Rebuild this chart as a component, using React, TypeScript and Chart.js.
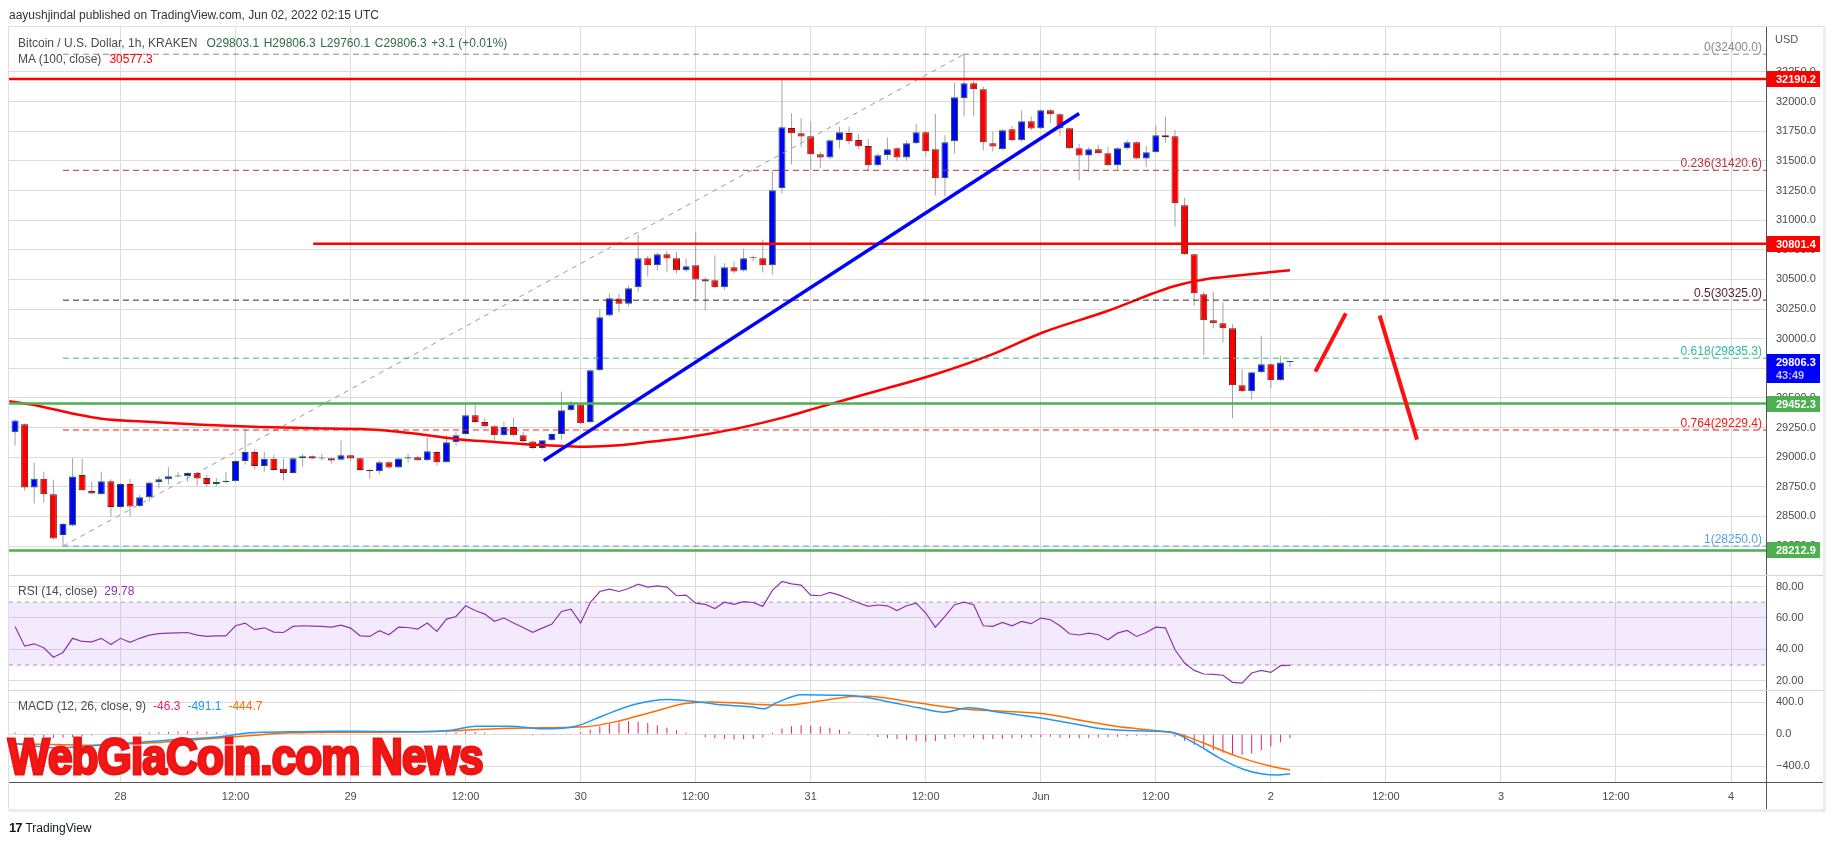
import React, { useEffect, useRef } from 'react';
import { Chart, registerables } from 'chart.js';

Chart.register(...registerables);

const FONT = '"Liberation Sans", Arial, sans-serif';
Chart.defaults.font.family = FONT;

// x values are hours counted from May 27 2022 00:00 UTC
const FIRST_HOUR = 13;
const X_MIN = 12.37;
const X_MAX = 195.65;

const opens = [
  29211, 29279, 28745, 28818, 28688, 28343, 28424, 28849, 28714, 28688,
  28798, 28579, 28773, 28587, 28663, 28790, 28815, 28843, 28840, 28866,
  28824, 28773, 28790, 28798, 28967, 29043, 28925, 28986, 28902, 28866,
  28992, 29009, 28990, 28992, 28978, 29017, 28992, 28891, 28882, 28958,
  28913, 28989, 29000, 28975, 29043, 28958, 29127, 29195, 29355, 29296,
  29262, 29186, 29254, 29186, 29133, 29077, 29144, 29195, 29397, 29445,
  29296, 29734, 30196, 30339, 30294, 30434, 30679, 30620, 30713, 30679,
  30578, 30620, 30502, 30493, 30434, 30603, 30575, 30682, 30679, 30620,
  31269, 31778, 31733, 31708, 31556, 31528, 31674, 31736, 31677, 31626,
  31463, 31548, 31607, 31528, 31649, 31742, 31598, 31354, 31666, 32029,
  32155, 32104, 31649, 31598, 31767, 31674, 31834, 31776, 31927, 31893,
  31775, 31607, 31545, 31598, 31565, 31463, 31607, 31657, 31520, 31573,
  31716, 31708, 31126, 30713, 30375, 30156, 30131, 30088, 29608, 29557,
  29717, 29785, 29650, 29803.1,
];
const highs = [
  29321, 29285, 28953, 28877, 28809, 28444, 28992, 28987, 28792, 28877,
  28815, 28781, 28818, 28683, 28795, 28835, 28916, 28874, 28874, 28871,
  28852, 28824, 28874, 28973, 29231, 29068, 29046, 29020, 28986, 28998,
  29026, 29017, 29029, 28995, 29141, 29023, 29000, 28897, 28972, 28964,
  28995, 29026, 29012, 29166, 29057, 29183, 29217, 29448, 29442, 29329,
  29268, 29299, 29332, 29214, 29140, 29144, 29203, 29552, 29476, 29450,
  29740, 30249, 30378, 30378, 30446, 30879, 30699, 30727, 30738, 30732,
  30679, 30898, 30519, 30704, 30637, 30648, 30758, 30701, 30834, 31421,
  32190, 31902, 31860, 31832, 31579, 31683, 31789, 31789, 31728, 31685,
  31565, 31697, 31615, 31671, 31812, 31753, 31896, 31719, 32160, 32400,
  32177, 32127, 31747, 31767, 31795, 31924, 31874, 31930, 31935, 31902,
  31780, 31643, 31615, 31635, 31618, 31615, 31677, 31663, 31626, 31798,
  31874, 31761, 31188, 30713, 30395, 30395, 30308, 30122, 29743, 29720,
  30024, 29790, 29855, 29806.3,
];
const lows = [
  29099, 28717, 28610, 28618, 28306, 28250, 28416, 28715, 28690, 28683,
  28500, 28573, 28500, 28582, 28627, 28736, 28770, 28832, 28795, 28759,
  28748, 28753, 28781, 28793, 28939, 28897, 28880, 28885, 28804, 28863,
  28922, 28981, 28972, 28944, 28972, 28964, 28885, 28821, 28857, 28905,
  28908, 28956, 28970, 28967, 28927, 28953, 29099, 29189, 29290, 29251,
  29135, 29181, 29175, 29127, 29068, 29068, 29140, 29147, 29391, 29280,
  29290, 29729, 30187, 30221, 30271, 30398, 30524, 30575, 30564, 30550,
  30561, 30313, 30238, 30426, 30412, 30550, 30566, 30651, 30558, 30541,
  31224, 31472, 31615, 31424, 31438, 31514, 31604, 31641, 31598, 31416,
  31452, 31508, 31497, 31500, 31641, 31537, 31207, 31199, 31565, 31874,
  31874, 31587, 31579, 31593, 31663, 31663, 31761, 31770, 31818, 31711,
  31600, 31334, 31410, 31559, 31460, 31430, 31593, 31514, 31446, 31573,
  31654, 30946, 30705, 30280, 29858, 30086, 29968, 29329, 29550, 29487,
  29710, 29582, 29645, 29760.1,
];
const closes = [
  29310, 28745, 28818, 28688, 28315, 28436, 28838, 28722, 28694, 28798,
  28579, 28773, 28584, 28663, 28787, 28815, 28840, 28838, 28866, 28821,
  28773, 28790, 28801, 28967, 29043, 28925, 28987, 28891, 28866, 28992,
  29009, 28989, 28992, 28972, 29017, 28989, 28891, 28882, 28958, 28913,
  28989, 29000, 28975, 29051, 28958, 29127, 29186, 29355, 29296, 29262,
  29186, 29254, 29186, 29136, 29077, 29144, 29195, 29397, 29445, 29287,
  29734, 30181, 30342, 30294, 30426, 30679, 30620, 30713, 30676, 30578,
  30612, 30499, 30482, 30434, 30603, 30566, 30679, 30679, 30620, 31252,
  31784, 31733, 31705, 31556, 31528, 31674, 31742, 31666, 31624, 31463,
  31548, 31598, 31528, 31649, 31742, 31582, 31354, 31657, 32037, 32155,
  32104, 31657, 31621, 31758, 31674, 31834, 31773, 31927, 31893, 31775,
  31607, 31545, 31598, 31565, 31463, 31607, 31657, 31520, 31573, 31716,
  31700, 31143, 30713, 30384, 30156, 30131, 30088, 29608, 29557, 29717,
  29785, 29650, 29799, 29806.3,
];
const hours = opens.map((_, i) => FIRST_HOUR + i);

const maHours = [12.4, 15, 17, 19.5, 22, 27.5, 32.5, 38.5, 44, 49, 53, 56, 59.4, 62.8, 66.7, 70, 72.6, 76, 79, 83, 88, 93.8, 97, 103, 109, 115, 120.2, 126.8, 133.8, 137.2, 140.3, 146];
const maValues = [29472, 29440, 29405, 29360, 29325, 29296, 29273, 29254, 29245, 29237, 29215, 29185, 29150, 29130, 29107, 29095, 29088, 29100, 29128, 29166, 29237, 29349, 29425, 29560, 29700, 29870, 30052, 30229, 30440, 30502, 30530, 30578];

const rsiValues = [
  54.5, 42, 43.5, 41, 35, 38, 47, 45, 44.8, 47,
  43, 47, 44.5, 47, 49, 50, 50.3, 50.5, 50.7, 49,
  48.2, 48.5, 48.6, 55, 56.7, 52.5, 53.7, 51, 50.7, 54.6,
  55, 54.8, 54.6, 54.1, 55.4, 53.5, 48.6, 48.2, 51.8, 49.3,
  54.1, 53.9, 52.9, 56.7, 51.4, 59.2, 60.9, 67.7, 64.7, 62.4,
  57.8, 59.9, 56.7, 53.9, 50.8, 53.5, 56.1, 64.1, 65.6, 56.7,
  69.8, 76.8, 78.3, 76.8, 78.7, 81.5, 79.6, 80.4, 79.6, 74.1,
  74.5, 69.4, 68.6, 66, 70, 68.6, 70.3, 69.8, 67.3, 77.5,
  83.2, 81.7, 80.9, 74.5, 74.1, 76.2, 74.5, 72, 69.5, 67.3,
  68.2, 67.7, 64.7, 67.7, 69.4, 63.1, 54.1, 60.9, 68.4, 70,
  68.4, 55, 54.6, 57.1, 55, 57.8, 56.3, 59.9, 58.8, 55,
  49.9, 49.1, 50.3, 49.3, 46.1, 50.3, 52, 48.2, 50.7, 54.1,
  53.7, 39.7, 31.3, 26.6, 24.3, 24, 23.5, 19, 18.5, 24.9,
  26.6, 25.3, 29.6, 29.78,
];

const macdHours = [13, 17.5, 22.8, 28.9, 34.1, 37.6, 41.9, 46.3, 50.6, 55, 58.5, 61.1, 64.6, 68.1, 71.5, 74.2, 77.6, 81.1, 83.7, 86.3, 89.8, 91.1, 92.4, 95.1, 98.5, 100.3, 103.8, 107.3, 109.9, 112.5, 116, 119.5, 122.9, 126.4, 129.9, 133.4, 136, 138.6, 141.2, 143, 144.7, 146];
const macdValues = [-118, -169, -128, -74, -36, 17, 30, 38, 34, 30, 50, 100, 100, 67, 100, 224, 369, 431, 411, 369, 340, 316, 390, 490, 485, 481, 411, 328, 274, 328, 266, 212, 142, 67, 42, 30, -107, -293, -438, -492, -508, -491.1];
const signalHours = [13, 20.2, 27.1, 33.2, 37.6, 41.9, 46.3, 50.6, 55, 59.4, 63.7, 68.1, 72.5, 75.9, 79.4, 82.9, 85.5, 88.1, 90.7, 93.3, 96.8, 100.3, 102, 105.5, 109, 112.5, 116, 120.3, 124.7, 128.2, 131.6, 134.3, 136.9, 140.4, 143.9, 146];
const signalValues = [-119, -136, -107, -57, -16, 17, 26, 26, 30, 46, 71, 79, 92, 162, 274, 382, 402, 390, 369, 361, 411, 469, 473, 419, 357, 307, 287, 253, 162, 92, 50, 5, -107, -272, -396, -444.7];
const histValues = [
  20, 10, -20, -40, -45,
  -40, -35, -25, -15, -10, -5,
  5, 10, 15, 20, 25, 30, 35, 38, 35, 30, 25, 20,
  15, 12, 10, 8, 6, 4, 3, 2, 2, 2, 0, -2, -3, -2, 0,
  2, 3, 4, 5, 6, 8, 10, 18, 25, 30,
  28, 20, 8, 0, -8, -12, -15, -14, -10, -2,
  10, 25, 60, 100, 130, 150, 160, 155, 140, 110, 80, 50,
  20, -10, -35, -50, -60, -65, -62, -55, -40, 20,
  70, 100, 110, 105, 95, 80, 55, 30, 10, -15, -35, -50,
  -60, -70, -85, -95, -85, -60, -35, -30, -50, -65, -60, -55,
  -50, -45, -40, -35, -30, -40, -45, -50, -45, -40, -35, -30, -25, -20, -15, -10, -5,
  -30, -80, -130, -170, -200, -230, -250, -255, -240, -200, -150, -100, -46.3,
];

const timeTickHours = [24, 36, 48, 60, 72, 84, 96, 108, 120, 132, 144, 156, 168, 180, 192];
const timeTickLabels = ['28', '12:00', '29', '12:00', '30', '12:00', '31', '12:00', 'Jun', '12:00', '2', '12:00', '3', '12:00', '4'];
const priceTicks = [28250, 28500, 28750, 29000, 29250, 29500, 29750, 30000, 30250, 30500, 30750, 31000, 31250, 31500, 31750, 32000, 32250];
const rsiTicks = [20, 40, 60, 80];
const macdTicks = [-400, 0, 400];

const PRICE_MIN = 28008, PRICE_MAX = 32638;
const RSI_MIN = 14.27, RSI_MAX = 87.44;
const MACD_MIN = -594, MACD_MAX = 553;

const resistanceTop = 32190.2;
const resistanceMid = 30801.4;
const resistanceMidStart = 44.1;
const supportTop = 29452.3;
const supportBottom = 28212.9;

const fibRatios = ['0', '0.236', '0.5', '0.618', '0.764', '1'];
const fibPrices = [32400.0, 31420.6, 30325.0, 29835.3, 29229.4, 28250.0];
const fibColors = ['#8a8a8a', '#b3343c', '#4f1d2e', '#2dbd96', '#ff1414', '#5a9fd8'];
const fibStartHour = 18;
const fibDiagonalHours = [18, 112];
const fibDiagonalPrices = [28250, 32400];
const trendHours = [68.15, 124.0];
const trendPrices = [28971, 31900];
const arrowUpHours = [148.64, 151.82];
const arrowUpPrices = [29722, 30214];
const arrowDownHours = [155.35, 159.25];
const arrowDownPrices = [30194, 29148];

const priceBoxes = [
  { value: 32190.2, bg: '#ff0000', text: '32190.2', sub: '' },
  { value: 30801.4, bg: '#ff0000', text: '30801.4', sub: '' },
  { value: 29806.3, bg: '#0000ff', text: '29806.3', sub: '43:49' },
  { value: 29452.3, bg: '#4caf50', text: '29452.3', sub: '' },
  { value: 28212.9, bg: '#4caf50', text: '28212.9', sub: '' },
];

const ohlcLegend = ['O29803.1', 'H29806.3', 'L29760.1', 'C29806.3', '+3.1 (+0.01%)'];

const GRID = '#dcdcdc';
const TICK_COLOR = '#4a4a4a';
const AXIS_WIDTH = 57;

const pts = (xs: number[], ys: number[]) => xs.map((x, i) => ({ x, y: ys[i] }));
const hline = (v: number, from = X_MIN) => [{ x: from, y: v }, { x: X_MAX, y: v }];

const overlayPlugin = {
  id: 'overlay',
  afterDraw(chart: any) {
    const { ctx, chartArea: ca, scales } = chart;
    const ys = scales.y, yr = scales.yRsi, ym = scales.yMacd, xs = scales.x;
    const right = ys.right;
    const bottom = xs.bottom;
    ctx.save();
    // frame
    ctx.strokeStyle = '#dcdfe6';
    ctx.lineWidth = 1;
    ctx.beginPath();
    ctx.moveTo(ca.left - 1, Math.round(ca.top) + 0.5);
    ctx.lineTo(right, Math.round(ca.top) + 0.5);
    ctx.moveTo(ca.left - 0.5, ca.top);
    ctx.lineTo(ca.left - 0.5, bottom + 1);
    ctx.stroke();
    ctx.fillStyle = '#ececf2';
    ctx.fillRect(right, ca.top, 3, bottom - ca.top + 4);
    ctx.fillRect(ca.left - 1, bottom + 1, right - ca.left + 4, 3);
    // pane separators
    ctx.strokeStyle = '#d2d4dc';
    ctx.beginPath();
    for (const py of [yr.top, ym.top]) {
      ctx.moveTo(ca.left, Math.round(py) + 0.5);
      ctx.lineTo(right, Math.round(py) + 0.5);
    }
    ctx.stroke();
    // axis line extensions
    ctx.strokeStyle = '#555';
    ctx.beginPath();
    const ax = Math.round(ys.left) + 0.5;
    ctx.moveTo(ax, ca.bottom);
    ctx.lineTo(ax, bottom + 1);
    const ay = Math.round(ca.bottom) + 0.5;
    ctx.moveTo(ca.right, ay);
    ctx.lineTo(right, ay);
    ctx.stroke();
    // fib labels
    ctx.font = `12px ${FONT}`;
    ctx.textAlign = 'right';
    ctx.textBaseline = 'bottom';
    fibPrices.forEach((p, i) => {
      ctx.fillStyle = fibColors[i];
      ctx.fillText(`${fibRatios[i]}(${p.toFixed(1)})`, ca.right - 4, ys.getPixelForValue(p) - 0.5);
    });
    // price boxes on axis
    ctx.textAlign = 'left';
    ctx.textBaseline = 'middle';
    for (const b of priceBoxes) {
      const py = ys.getPixelForValue(b.value);
      const h = b.sub ? 29 : 16;
      const top = py - 8;
      ctx.fillStyle = b.bg;
      ctx.fillRect(ys.left + 1, Math.round(top), 53, h);
      ctx.font = `bold 11px ${FONT}`;
      ctx.fillStyle = '#ffffff';
      ctx.fillText(b.text, ys.left + 10, Math.round(top) + 8.5);
      if (b.sub) {
        ctx.fillStyle = '#c4c4ff';
        ctx.fillText(b.sub, ys.left + 10, Math.round(top) + 22);
      }
    }
    ctx.font = `11px ${FONT}`;
    ctx.fillStyle = '#555';
    ctx.fillText('USD', ys.left + 9, ca.top + 14);
    ctx.restore();
  },
};

export default function App() {
  const canvasRef = useRef<HTMLCanvasElement>(null);
  const wmRef = useRef<HTMLDivElement>(null);

  useEffect(() => {
    const up = (i: number) => closes[i] > opens[i];
    const lineDs = (data: any[], color: string, width: number, extra: any = {}) => ({
      type: 'line',
      data,
      borderColor: color,
      borderWidth: width,
      pointRadius: 0,
      fill: false,
      yAxisID: 'y',
      order: 2,
      ...extra,
    });

    const datasets: any[] = [
      {
        type: 'bar',
        data: hours.map((h, i) => ({ x: h, y: [lows[i], highs[i]] })),
        backgroundColor: '#a3a3a3',
        barThickness: 1,
        grouped: false,
        inflateAmount: 0,
        yAxisID: 'y',
        order: 20,
      },
      {
        type: 'bar',
        data: hours.map((h, i) => ({ x: h, y: [opens[i], closes[i]] })),
        backgroundColor: hours.map((_, i) => (up(i) ? '#0000ff' : '#ff0000')),
        borderColor: hours.map((_, i) => (up(i) ? '#1f5c33' : '#6b1a1a')),
        borderWidth: 1,
        borderSkipped: false,
        barThickness: 7,
        minBarLength: 1,
        grouped: false,
        inflateAmount: 0,
        yAxisID: 'y',
        order: 19,
      },
      lineDs(pts(maHours, maValues), '#ff0000', 2.5, { cubicInterpolationMode: 'monotone', order: 15 }),
      lineDs(hline(resistanceTop), '#ff0000', 2.5),
      lineDs(hline(resistanceMid, resistanceMidStart), '#ff0000', 2.5),
      lineDs(hline(supportTop), '#4caf50', 2.5),
      lineDs(hline(supportBottom), '#4caf50', 2.5),
      ...fibPrices.map((p, i) => lineDs(hline(p, fibStartHour), fibColors[i], 1, { borderDash: [6, 4], order: 3 })),
      lineDs(pts(fibDiagonalHours, fibDiagonalPrices), '#9a9a9a', 1, { borderDash: [5, 5], order: 3 }),
      lineDs(pts(trendHours, trendPrices), '#0000ff', 3.5, { order: 1 }),
      lineDs(pts(arrowUpHours, arrowUpPrices), '#ff1010', 4, { order: 1 }),
      lineDs(pts(arrowDownHours, arrowDownPrices), '#ff1010', 4, { order: 1 }),
      // RSI band
      lineDs(hline(70), '#a896bf', 1, { yAxisID: 'yRsi', borderDash: [4, 4], fill: '+1', backgroundColor: 'rgba(160, 90, 235, 0.12)', order: 12 }),
      lineDs(hline(30), '#a896bf', 1, { yAxisID: 'yRsi', borderDash: [4, 4], order: 12 }),
      lineDs(hours.map((h, i) => ({ x: h, y: rsiValues[i] })), '#9133b0', 1.2, { yAxisID: 'yRsi', order: 5 }),
      // MACD
      {
        type: 'bar',
        data: hours.map((h, i) => ({ x: h, y: histValues[i] })),
        backgroundColor: '#ec1f6d',
        barThickness: 1,
        grouped: false,
        inflateAmount: 0,
        yAxisID: 'yMacd',
        order: 8,
      },
      lineDs(pts(macdHours, macdValues), '#2196f3', 1.5, { yAxisID: 'yMacd', cubicInterpolationMode: 'monotone', order: 6 }),
      lineDs(pts(signalHours, signalValues), '#ff6d00', 1.5, { yAxisID: 'yMacd', cubicInterpolationMode: 'monotone', order: 6 }),
    ];

    const yCommon = (weight: number, min: number, max: number, ticks: number[], fmt: (v: number) => string) => ({
      type: 'linear',
      position: 'right',
      stack: 'panes',
      stackWeight: weight,
      min,
      max,
      grid: { color: GRID, drawTicks: false },
      border: { display: true, color: '#555', width: 1 },
      ticks: { padding: 10, color: TICK_COLOR, autoSkip: false, font: { family: FONT, size: 11 }, callback: (v: any) => fmt(Number(v)) },
      afterBuildTicks: (s: any) => { s.ticks = ticks.map((v) => ({ value: v })); },
      afterFit: (s: any) => { s.width = AXIS_WIDTH; },
    });

    const chart = new Chart(canvasRef.current as HTMLCanvasElement, {
      type: 'bar',
      data: { datasets },
      options: {
        responsive: false,
        animation: false,
        devicePixelRatio: 1,
        events: [],
        layout: { padding: { left: 9, top: 26, right: 11, bottom: 37 } },
        plugins: { legend: { display: false }, tooltip: { enabled: false } },
        scales: {
          x: {
            type: 'linear',
            min: X_MIN,
            max: X_MAX,
            offset: false,
            grid: { color: GRID, drawTicks: false, offset: false },
            border: { display: true, color: '#555', width: 1 },
            ticks: {
              autoSkip: false,
              maxRotation: 0,
              padding: 8,
              color: TICK_COLOR,
              font: { family: FONT, size: 11 },
              callback: (_v: any, idx: number) => timeTickLabels[idx],
            },
            afterBuildTicks: (s: any) => { s.ticks = timeTickHours.map((v) => ({ value: v })); },
            afterFit: (s: any) => { s.height = 26; },
          },
          y: yCommon(549, PRICE_MIN, PRICE_MAX, priceTicks, (v) => v.toFixed(1)),
          yRsi: yCommon(115, RSI_MIN, RSI_MAX, rsiTicks, (v) => v.toFixed(2)),
          yMacd: yCommon(92.3, MACD_MIN, MACD_MAX, macdTicks, (v) => (v < 0 ? '\u2212' : '') + Math.abs(v).toFixed(1)),
        },
      } as any,
      plugins: [overlayPlugin],
    } as any);

    if (wmRef.current) {
      const w = wmRef.current.scrollWidth;
      if (w > 0) wmRef.current.style.transform = `scaleX(${475 / w})`;
    }
    return () => chart.destroy();
  }, []);

  const abs = (left: number, top: number, extra: any = {}) => ({
    position: 'absolute' as const,
    left,
    top,
    whiteSpace: 'pre' as const,
    fontSize: 12,
    lineHeight: '14px',
    ...extra,
  });
  const GREEN = '#2e6b46';

  return (
    <div style={{ position: 'absolute', left: 0, top: 0, width: 1834, height: 845, background: '#fff', overflow: 'hidden', fontFamily: FONT }}>
      <canvas ref={canvasRef} width={1834} height={845} style={{ position: 'absolute', left: 0, top: 0 }} />
      <div style={abs(9, 8, { color: '#333' })}>aayushjindal published on TradingView.com, Jun 02, 2022 02:15 UTC</div>
      <div style={abs(18, 35.5, { color: '#4a4a4a' })}>
        Bitcoin / U.S. Dollar, 1h, KRAKEN
        {ohlcLegend.map((t, i) => (
          <span key={t} style={{ color: GREEN, marginLeft: i === 0 ? 9 : 4.5 }}>{t}</span>
        ))}
      </div>
      <div style={abs(18, 51.5, { color: '#4a4a4a' })}>
        MA (100, close)<span style={{ color: '#ff0000', marginLeft: 8 }}>30577.3</span>
      </div>
      <div style={abs(18, 584, { color: '#4a4a4a' })}>
        RSI (14, close)<span style={{ color: '#9133b0', marginLeft: 7 }}>29.78</span>
      </div>
      <div style={abs(18, 699, { color: '#4a4a4a' })}>
        MACD (12, 26, close, 9)
        <span style={{ color: '#ec1f6d', marginLeft: 7 }}>-46.3</span>
        <span style={{ color: '#2196f3', marginLeft: 7 }}>-491.1</span>
        <span style={{ color: '#ff6d00', marginLeft: 7 }}>-444.7</span>
      </div>
      <div
        ref={wmRef}
        style={{
          position: 'absolute',
          left: 8,
          top: 732,
          display: 'inline-block',
          whiteSpace: 'nowrap',
          fontSize: 50,
          lineHeight: '50px',
          fontWeight: 'bold',
          color: '#f51616',
          WebkitTextStroke: '3px #ee1414',
          transformOrigin: 'left top',
          letterSpacing: -1,
        }}
      >
        WebGiaCoin.com News
      </div>
      <div style={abs(9, 821, { color: '#131722' })}>
        <span style={{ fontWeight: 'bold', fontSize: 13, letterSpacing: -1 }}>17</span>
        <span style={{ marginLeft: 4 }}>TradingView</span>
      </div>
    </div>
  );
}
